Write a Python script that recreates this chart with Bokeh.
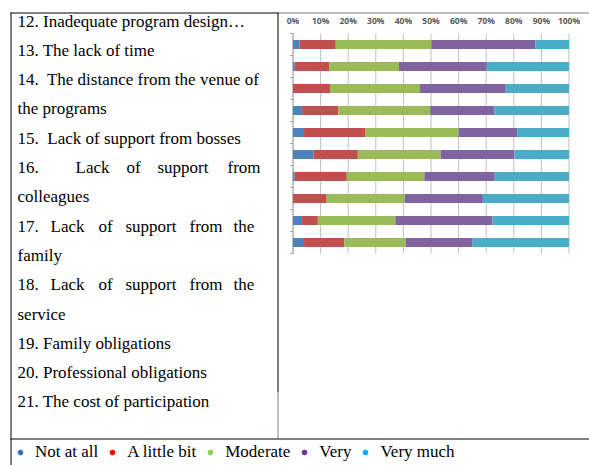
import math
from bokeh.plotting import figure
from bokeh.models import Range1d, Legend, LegendItem, ColumnDataSource
from bokeh.core.properties import value
from bokeh.embed import file_html
from bokeh.resources import INLINE

# ---------------- data ----------------
categories = [
    "12. Inadequate program design",
    "13. The lack of time",
    "14. The distance from the venue of the programs",
    "15. Lack of support from bosses",
    "16. Lack of support from colleagues",
    "17. Lack of support from the family",
    "18. Lack of support from the service",
    "19. Family obligations",
    "20. Professional obligations",
    "21. The cost of participation",
]
levels = ["Not at all", "A little bit", "Moderate", "Very", "Very much"]
not_at_all   = [2.4, 0.6, 0.0, 3.3, 4.0, 7.4, 0.6, 0.0, 3.3, 4.0]
a_little_bit = [13.1, 12.5, 13.4, 13.1, 22.1, 16.1, 18.9, 12.2, 5.7, 14.6]
moderate     = [34.6, 25.3, 32.6, 33.3, 33.9, 30.0, 28.1, 28.3, 28.1, 22.2]
very         = [37.8, 31.8, 31.1, 23.3, 21.2, 26.7, 25.5, 28.3, 35.2, 24.3]
very_much    = [12.1, 29.8, 22.9, 27.0, 18.8, 19.8, 26.9, 31.2, 27.7, 34.9]
x_ticks = [0, 10, 20, 30, 40, 50, 60, 70, 80, 90, 100]
x_tick_labels = ["0%", "10%", "20%", "30%", "40%", "50%", "60%", "70%", "80%", "90%", "100%"]

table_lines = [
    "12. Inadequate program design\u2026",
    "13. The lack of time",
    "14.\u00a0 The distance from the venue of",
    "the programs",
    "15.\u00a0 Lack of support from bosses",
    "16. Lack of support from",
    "colleagues",
    "17. Lack of support from the",
    "family",
    "18. Lack of support from the",
    "service",
    "19. Family obligations",
    "20. Professional obligations",
    "21. The cost of participation",
]

bar_colors = ["#4F81BD", "#C0504D", "#9BBB59", "#8064A2", "#4BACC6"]
dot_colors = ["#2E75B6", "#FF0000", "#92D050", "#7030A0", "#00B0F0"]
SERIF = "Liberation Serif"

# ---------------- page geometry (layout only) ----------------
W, H = 589, 465
chart_l, chart_r = 292.5, 568.5       # x of 0% and 100%
chart_t, chart_b = 33.0, 253.0        # y of top / bottom of the category band

p = figure(width=W, height=H,
           x_range=Range1d(0, W), y_range=Range1d(H, 0),
           x_axis_type=None, y_axis_type=None, toolbar_location=None,
           output_backend="svg", min_border=0, outline_line_color=None)

# scales for the chart part: percent along x, category index along y
n = len(categories)
sx = (chart_r - chart_l) / 100.0
xs = -chart_l / sx
p.extra_x_ranges = {"pct": Range1d(xs, xs + W / sx)}
sy = (chart_b - chart_t) / n
ys = -(H - chart_b) / sy
p.extra_y_ranges = {"idx": Range1d(ys, ys + H / sy)}

# ---------------- table borders ----------------
p.segment(x0=[10, 278, 10.5, 277.5, 277.5, 10],
          y0=[12.5, 12.5, 12, 12, 392, 438.5],
          x1=[278, 589, 10.5, 277.5, 277.5, 589],
          y1=[12.5, 12.5, 465, 392, 438, 438.5],
          line_color=["#000000", "#808080", "#000000", "#000000", "#808080", "#000000"],
          line_width=1)

# ---------------- table text ----------------
line_y0, line_dy, text_x = 20.5, 29.3, 17
justified = {   # word start positions for justified lines (layout only)
    5: [17, 75, 126, 157, 227],
    7: [17, 50, 98, 125, 189, 233],
    9: [17, 50, 98, 125, 189, 233],
}
tx, ty, tt = [], [], []
for i, t in enumerate(table_lines):
    y = line_y0 + i * line_dy
    if i in justified:
        for w, x in zip(t.split(), justified[i]):
            tx.append(x); ty.append(y); tt.append(w)
    else:
        tx.append(text_x); ty.append(y); tt.append(t)
p.text(x=tx, y=ty, text=tt, text_font=value(SERIF), text_font_size="17px",
       text_baseline="middle", text_align="left", text_color="#000000")

# ---------------- chart ----------------
pos = [n - 0.5 - i for i in range(n)]   # first category on top
src = ColumnDataSource(dict(category=categories, pos=pos, **{
    levels[0]: not_at_all, levels[1]: a_little_bit, levels[2]: moderate,
    levels[3]: very, levels[4]: very_much}))

# vertical grid lines
p.segment(x0=x_ticks, y0=[0] * len(x_ticks), x1=x_ticks, y1=[n] * len(x_ticks),
          x_range_name="pct", y_range_name="idx", line_color="#BFBFBF", line_width=1)
# category axis line and boundary ticks
p.segment(x0=[0], y0=[0], x1=[0], y1=[n], x_range_name="pct", y_range_name="idx",
          line_color="#A6A6A6", line_width=1)
p.ray(x=[0] * (n + 1), y=list(range(n + 1)), length=3, length_units="screen", angle=math.pi,
      x_range_name="pct", y_range_name="idx", line_color="#A6A6A6", line_width=1)

p.hbar_stack(levels, y="pos", height=0.4, color=bar_colors, source=src, line_width=0,
             x_range_name="pct", y_range_name="idx")

# percent tick labels above the chart
p.text(x=x_ticks, y=[n] * len(x_ticks), text=x_tick_labels, y_offset=-13,
       x_range_name="pct", y_range_name="idx",
       text_font=value("Open Sans"), text_font_style="bold", text_font_size="8.5px",
       text_color="#595959", text_align="center", text_baseline="middle")

# ---------------- legend row ----------------
nan = float("nan")
rends = [p.scatter(x=[nan], y=[nan], size=5, color=c) for c in dot_colors]
leg = Legend(items=[LegendItem(label=l, renderers=[r]) for l, r in zip(levels, rends)],
             orientation="horizontal", location=(14, 3), padding=0, margin=0,
             spacing=8, glyph_width=12, glyph_height=12, label_height=16, label_standoff=9,
             label_text_font=SERIF, label_text_font_size="17px", label_text_color="#000000",
             background_fill_alpha=0, border_line_alpha=0)
p.add_layout(leg, "center")

open("out.html", "w").write(file_html(p, INLINE))
